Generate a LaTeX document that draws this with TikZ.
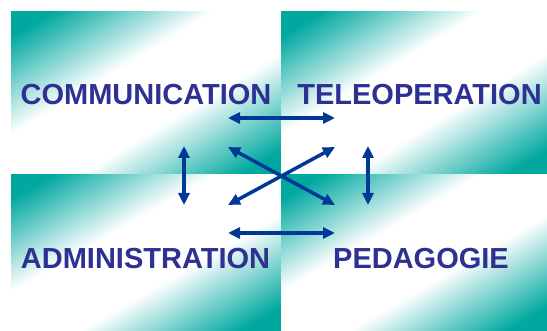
\documentclass[tikz,border=0pt]{standalone}
\usepackage{fontspec}
\setmainfont{Liberation Sans}
\usetikzlibrary{arrows.meta}
\definecolor{labelblue}{RGB}{46,49,146}
\definecolor{arrowblue}{RGB}{0,56,150}
% teal (0,168,160) at the two corners, white along the diagonal
\pgfdeclarefunctionalshading{tealband}{\pgfpoint{0bp}{0bp}}{\pgfpoint{100bp}{100bp}}{}{
  25 sub 50 div exch 25 sub 50 div exch sub abs
  0.25 sub 0.6 div
  dup 0 lt {pop 0} if dup 1 gt {pop 1} if
  dup 1 exch sub exch
  dup 0.341 mul 1 exch sub exch
  0.373 mul 1 exch sub}

\begin{document}
\begin{tikzpicture}[x=1pt,y=-1pt,
        panel/.style={shading=tealband},
        lbl/.style={anchor=base,text=labelblue,
                    font=\fontsize{29}{34}\selectfont\bfseries},
        link/.style={{Triangle[length=12pt,width=11pt]}-{Triangle[length=12pt,width=11pt]},
                     draw=arrowblue,line width=3.5pt}
      ]
      \useasboundingbox (0,0) rectangle (547,331);
      % panels
      \shade[panel] (11,12) rectangle (281,175);
      \shade[panel] (281,12) rectangle (547,175);
      \shade[panel] (11,175) rectangle (281,331);
      \shade[panel] (281,175) rectangle (547,331);

      \node[lbl] (Com) at (146,105) {COMMUNICATION};
      \node[lbl] (Tel) at (419.5,105) {TELEOPERATION};
      \node[lbl] (Adm) at (145.5,269) {ADMINISTRATION};
      \node[lbl] (Ped) at (421,269) {PEDAGOGIE};

      % arrow ends
      \coordinate (ComR) at (228,118);
      \coordinate (TelL) at (335,118);
      \coordinate (AdmR) at (228,233);
      \coordinate (PedL) at (335,233);
      \coordinate (ComB) at (184,146);
      \coordinate (AdmT) at (184,205);
      \coordinate (TelB) at (368,146);
      \coordinate (PedT) at (368,205);
      \coordinate (ComD) at (228,147);
      \coordinate (PedD) at (335,205);
      \coordinate (AdmD) at (228,205);
      \coordinate (TelD) at (335,147);

      \draw[link] (ComR) -- (TelL);
      \draw[link] (AdmR) -- (PedL);
      \draw[link] (ComB) -- (AdmT);
      \draw[link] (TelB) -- (PedT);
      \draw[link] (ComD) -- (PedD);
      \draw[link] (AdmD) -- (TelD);
    \end{tikzpicture}
\end{document}
